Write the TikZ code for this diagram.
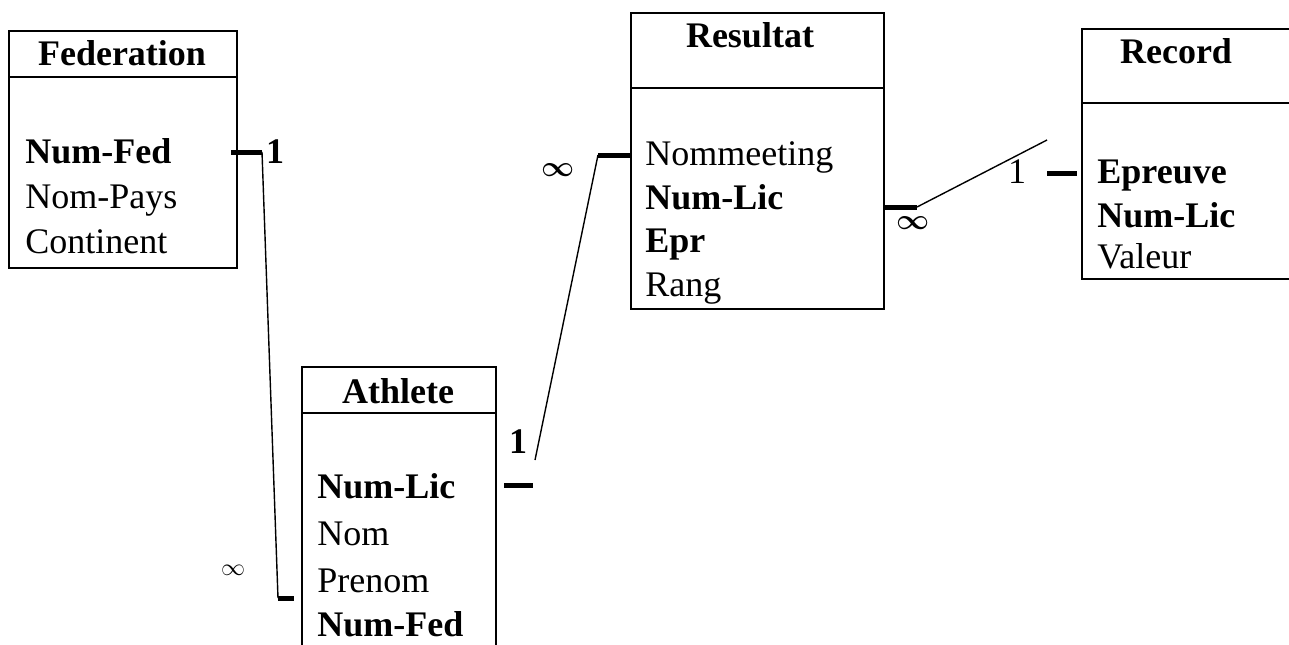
\documentclass[tikz,border=0pt]{standalone}
\usepackage{amsmath}
\usepackage{fontspec}
\setmainfont{Liberation Serif}
\usepackage{tikz}
\usetikzlibrary{positioning}

\newcommand\erfont{\fontsize{18}{22}\selectfont}

\tikzset{
  entity/.style={draw,line width=1pt,inner sep=0pt,anchor=north west},
  title/.style={font=\erfont\bfseries,anchor=base,inner sep=0pt},
  attr/.style={font=\erfont,anchor=base west,inner sep=0pt},
  key/.style={attr,font=\erfont\bfseries},
  stub/.style={line width=2.5pt},
  link/.style={line width=.7pt},
  card/.style={font=\erfont,inner sep=0pt},
}

\begin{document}
\begin{tikzpicture}[x=0.5pt,y=-0.5pt]
  \useasboundingbox (0,0) rectangle (1289,644);
  \clip (0,0) rectangle (1289,644);

  % Federation
  \node[entity,minimum width=114pt,minimum height=118.5pt] (fed) at (8,30) {};
  \draw[line width=1pt] ([yshift=-23.5pt]fed.north west) -- ([yshift=-23.5pt]fed.north east);
  \node[title] (fedT) at (122,65) {Federation};
  \node[key] (fedNum) at (25,163) {Num-Fed};
  \node[attr] (fedPays) at (25,208) {Nom-Pays};
  \node[attr] (fedCont) at (25,253) {Continent};

  % Athlete (cut at the bottom)
  \node[entity,minimum width=97pt,minimum height=167pt] (ath) at (301,366) {};
  \draw[line width=1pt] ([yshift=-23.5pt]ath.north west) -- ([yshift=-23.5pt]ath.north east);
  \node[title] (athT) at (398,403) {Athlete};
  \node[key] (athLic) at (317,498) {Num-Lic};
  \node[attr] (athNom) at (317,545) {Nom};
  \node[attr] (athPre) at (317,592) {Prenom};
  \node[key] (athFed) at (317,636) {Num-Fed};

  % Resultat
  \node[entity,minimum width=126.5pt,minimum height=148pt] (res) at (630,12) {};
  \draw[line width=1pt] ([yshift=-38pt]res.north west) -- ([yshift=-38pt]res.north east);
  \node[title] (resT) at (750,47) {Resultat};
  \node[attr] (resMeet) at (645,165) {Nommeeting};
  \node[key] (resLic) at (645,209) {Num-Lic};
  \node[key] (resEpr) at (645,252) {Epr};
  \node[attr] (resRang) at (645,296) {Rang};

  % Record (cut at the right)
  \node[entity,minimum width=119.5pt,minimum height=125pt] (rec) at (1081,28) {};
  \draw[line width=1pt] ([yshift=-37.5pt]rec.north west) -- ([yshift=-37.5pt]rec.north east);
  \node[title] (recT) at (1176,63) {Record};
  \node[key] (recEpr) at (1097,183) {Epreuve};
  \node[key] (recLic) at (1097,227) {Num-Lic};
  \node[attr] (recVal) at (1097,268) {Valeur};

  % Federation -- Athlete
  \coordinate (c1a) at (262,152);
  \coordinate (c1b) at (278,598);
  \draw[stub] ([xshift=-3.5pt]fed.east |- c1a) -- (c1a);
  \draw[link] (c1a) -- (c1b);
  \draw[stub] (c1b) -- ([xshift=-3.5pt]ath.west |- c1b);
  \node[card,font=\erfont\bfseries] (n1) at (275,152) {1};
  \node[card] (i1) at (233,570) {\fontsize{13}{13}\selectfont$\infty$};

  % Athlete -- Resultat
  \coordinate (c2s) at (533,485);
  \coordinate (c2a) at (535,460);
  \coordinate (c2b) at (598,155);
  \draw[stub] ([xshift=3.5pt]ath.east |- c2s) -- (c2s);
  \draw[link] (c2a) -- (c2b);
  \draw[stub] (c2b) -- (res.west |- c2b);
  \node[card,font=\erfont\bfseries] (n2) at (518,442) {1};
  \node[card] (i2) at (558,170) {\fontsize{14}{14}\selectfont$\boldsymbol{\infty}$};

  % Resultat -- Record
  \coordinate (c3a) at (917,207);
  \coordinate (c3b) at (1047,140);
  \coordinate (c3s) at (1047,173);
  \draw[stub] (res.east |- c3a) -- (c3a);
  \draw[link] (c3a) -- (c3b);
  \draw[stub] (c3s) -- ([xshift=-2pt]rec.west |- c3s);
  \node[card] (i3) at (913,223) {\fontsize{14}{14}\selectfont$\boldsymbol{\infty}$};
  \node[card] (n3) at (1017,172) {1};
\end{tikzpicture}
\end{document}
